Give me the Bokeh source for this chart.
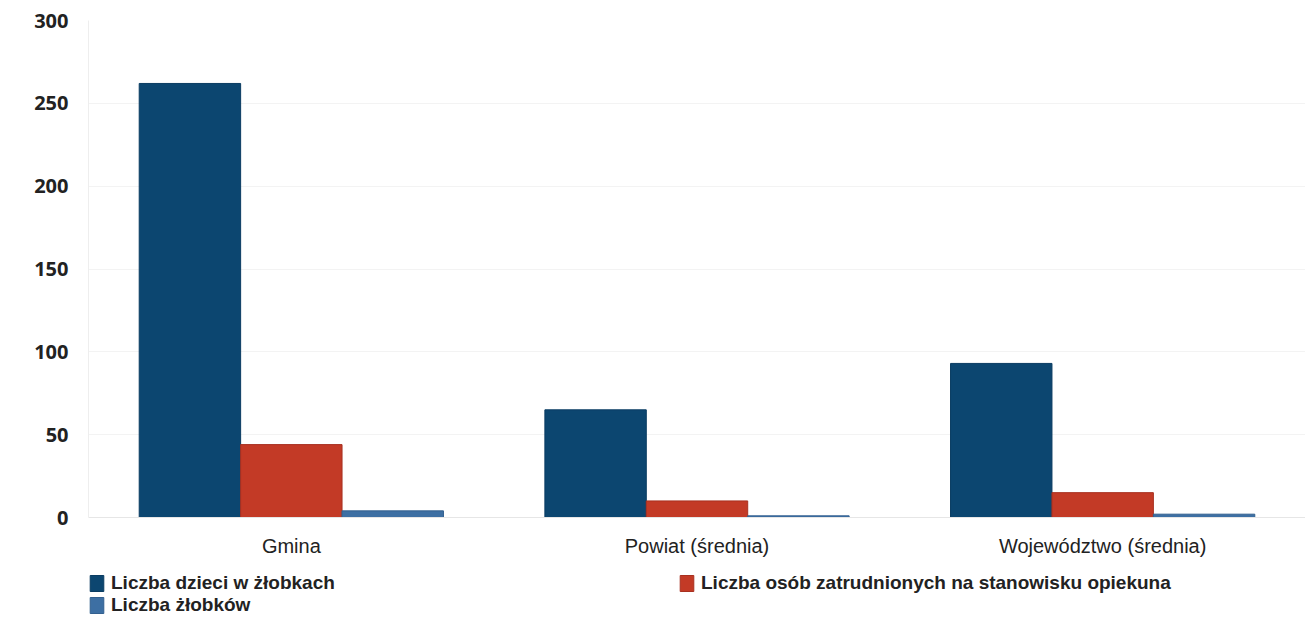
from bokeh.plotting import figure
from bokeh.layouts import column
from bokeh.models import ColumnDataSource, FactorRange, Range1d, Legend, LegendItem, FixedTicker
from bokeh.transform import dodge
from bokeh.embed import file_html
from bokeh.resources import INLINE

categories = ["Gmina", "Powiat (średnia)", "Województwo (średnia)"]
dzieci = [262, 65, 93]
osoby = [44, 10, 15]
zlobki = [4, 1, 2]
y_ticks = [0, 50, 100, 150, 200, 250, 300]
series_labels = ["Liczba dzieci w żłobkach",
                 "Liczba osób zatrudnionych na stanowisku opiekuna",
                 "Liczba żłobków"]
colors = ["#0c4670", "#c33a26", "#3d6fa3"]
edges = ["#0a3c62", "#a83020", "#33608f"]

src = ColumnDataSource(dict(cat=categories, dzieci=dzieci, osoby=osoby, zlobki=zlobki))

p = figure(x_range=FactorRange(*categories, range_padding=0), y_range=Range1d(0, 300),
           width=1305, height=560, output_backend="svg", toolbar_location=None,
           min_border_left=88, min_border_right=0, min_border_top=20, min_border_bottom=43)
p.outline_line_color = None

for field, off, c, e in zip(["dzieci", "osoby", "zlobki"], [-0.25, 0.0, 0.25], colors, edges):
    p.vbar(x=dodge("cat", off, range=p.x_range), top=field, width=0.25, source=src,
           fill_color=c, line_color=e, line_width=1)

p.yaxis.ticker = FixedTicker(ticks=y_ticks)
p.yaxis.axis_line_color = "#eeeeee"
p.yaxis.major_tick_line_color = None
p.yaxis.minor_tick_line_color = None
p.yaxis.major_label_text_font = "Open Sans"
p.yaxis.major_label_text_font_style = "bold"
p.yaxis.major_label_text_font_size = "20px"
p.yaxis.major_label_text_color = "#222222"
p.yaxis.major_label_standoff = 14

p.xaxis.axis_line_color = "#e6e6e6"
p.xaxis.major_tick_line_color = None
p.xaxis.minor_tick_line_color = None
p.xaxis.major_label_text_font = "Liberation Sans"
p.xaxis.major_label_text_font_size = "20px"
p.xaxis.major_label_text_color = "#222222"
p.xaxis.major_label_standoff = 11

p.xgrid.grid_line_color = None
p.ygrid.grid_line_color = "#f3f3f3"

# legend figure below the chart
lg = figure(width=1305, height=58, output_backend="svg", toolbar_location=None,
            x_range=Range1d(0, 1), y_range=Range1d(0, 1),
            x_axis_type=None, y_axis_type=None,
            min_border_left=0, min_border_right=0, min_border_top=0, min_border_bottom=0)
lg.outline_line_color = None
lg.grid.visible = False

items = []
for lab, c, e in zip(series_labels, colors, edges):
    # off-screen proxy renderer used only for the legend swatch
    r = lg.vbar(x=[5], top=[1], width=0.1, fill_color=c, line_color=e)
    items.append(LegendItem(label=lab, renderers=[r]))

legend = Legend(items=items, orientation="horizontal", ncols=2, location=(0, 2))
legend.border_line_color = None
legend.background_fill_alpha = 0
legend.padding = 0
legend.margin = 0
legend.spacing = 0
legend.glyph_width = 17
legend.glyph_height = 20
legend.label_standoff = 6
legend.label_width = 567
legend.label_height = 20
legend.label_text_font = "Liberation Sans"
legend.label_text_font_style = "bold"
legend.label_text_font_size = "19px"
legend.label_text_color = "#222222"
lg.add_layout(legend, "center")

layout = column(p, lg, spacing=0)
open("out.html", "w").write(file_html(layout, INLINE))
